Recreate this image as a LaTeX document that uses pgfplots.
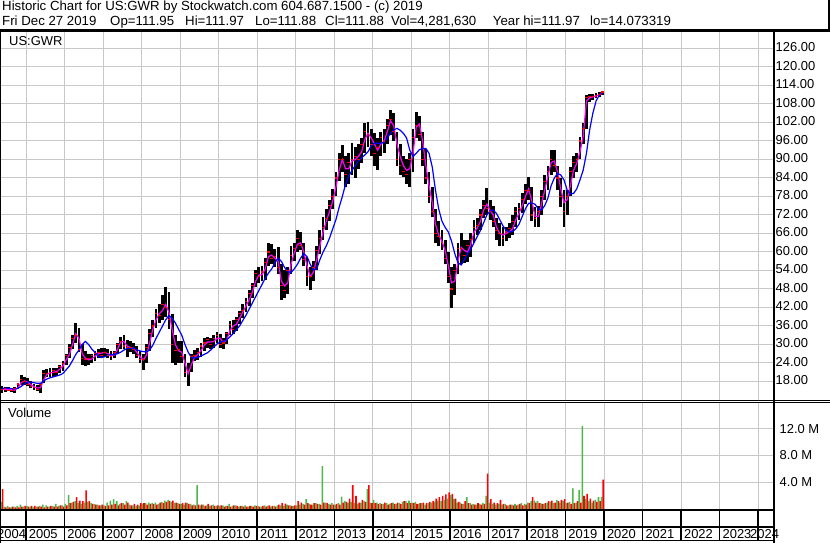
\documentclass[border=0pt]{standalone}
\usepackage{pgfplots}
\pgfplotsset{compat=1.18}
\usepackage{pgfplotstable}
\usepackage{fontspec}
\setmainfont{Liberation Sans}
\definecolor{gridgray}{RGB}{200,200,200}
\definecolor{volgreen}{RGB}{76,184,72}
\definecolor{volred}{RGB}{255,0,0}
\definecolor{magline}{RGB}{255,0,255}
\definecolor{blueline}{RGB}{0,0,255}
\newcommand\ff{\fontsize{13}{15}\selectfont}
\newcommand\hf{\fontsize{13.3}{15}\selectfont}

\pgfplotstableread{
t hi lo c m b vg vr
2004.375 16.5 14.3 15.5 15.4 15.8 1.1 3.0
2004.458 16.2 14.5 15.6 15.4 15.8 0.4 0.3
2004.542 16.3 14.8 15.2 15.5 15.8 0.5 0.3
2004.625 16.0 14.5 15.0 15.3 15.7 0.3 0.4
2004.708 16.2 14.3 15.8 15.2 15.6 0.4 0.3
2004.792 17.5 15.5 17.2 16.0 15.8 0.5 0.3
2004.875 20.2 17.0 18.6 17.6 16.4 0.7 0.4
2004.958 19.5 17.0 18.0 18.2 17.2 0.4 0.5
2005.042 19.0 16.5 17.0 17.8 17.8 0.5 0.4
2005.125 18.0 15.8 16.5 17.0 17.8 0.4 0.5
2005.208 17.2 15.3 16.0 16.3 17.6 0.3 0.5
2005.292 16.8 15.0 15.5 15.9 17.4 0.4 0.4
2005.375 17.5 14.3 17.0 16.0 17.4 0.5 0.4
2005.458 21.8 17.5 20.5 18.5 18.2 0.7 0.3
2005.542 22.0 19.5 20.5 20.3 18.8 0.6 0.4
2005.625 22.3 19.6 21.0 20.8 19.2 0.4 0.5
2005.708 22.3 19.6 21.5 21.0 19.5 0.5 0.4
2005.792 22.5 19.8 21.0 21.2 19.8 0.8 0.4
2005.875 23.5 20.7 23.0 22.0 20.1 0.5 0.6
2005.958 24.5 21.5 23.8 23.0 20.6 0.6 0.4
2006.042 27.0 23.5 26.5 25.0 21.8 0.8 0.6
2006.125 30.0 25.6 29.0 26.7 23.0 2.1 0.9
2006.208 33.0 28.5 32.0 30.0 24.8 1.0 1.1
2006.292 37.0 30.5 33.0 33.5 26.8 1.2 1.8
2006.375 35.5 27.5 28.5 32.0 28.2 0.9 1.3
2006.458 30.0 23.5 25.5 27.0 30.0 0.8 1.2
2006.542 28.0 23.0 25.0 25.5 31.0 1.0 2.8
2006.625 27.0 23.5 25.5 25.0 30.0 1.1 1.2
2006.708 27.0 24.0 26.5 25.3 28.5 0.9 0.8
2006.792 28.0 24.5 27.0 26.2 27.5 0.8 0.7
2006.875 28.5 25.5 27.5 27.0 26.2 0.7 0.6
2006.958 29.0 25.5 26.5 27.2 25.8 0.6 0.7
2007.042 29.0 26.0 27.5 27.5 26.0 0.6 0.5
2007.125 28.5 25.5 26.5 27.0 26.5 1.0 0.6
2007.208 28.0 25.0 26.0 26.5 26.7 1.3 0.7
2007.292 28.0 25.5 27.5 26.6 26.8 1.5 0.8
2007.375 30.5 27.0 30.0 28.5 27.0 1.2 0.6
2007.458 32.5 28.5 31.0 30.8 27.5 0.8 0.9
2007.542 33.0 28.5 29.5 31.0 28.2 0.9 0.7
2007.625 31.5 26.0 29.0 29.5 28.7 1.2 1.0
2007.708 31.0 27.5 29.0 29.0 28.9 0.7 0.6
2007.792 30.5 27.0 28.5 28.8 28.8 0.6 0.8
2007.875 29.5 25.5 26.5 27.5 28.3 0.5 0.7
2007.958 28.0 24.0 25.0 26.0 27.9 0.6 0.9
2008.042 27.0 21.7 25.0 25.0 27.7 0.8 0.9
2008.125 30.0 24.0 29.0 26.5 27.6 0.9 0.7
2008.208 35.0 28.0 33.5 30.5 28.2 1.0 0.8
2008.292 38.0 32.5 36.0 35.0 29.8 0.9 0.8
2008.375 41.5 35.5 40.0 38.0 32.0 1.0 0.7
2008.458 43.0 37.0 39.5 40.0 34.0 0.8 1.0
2008.542 46.0 38.0 43.0 41.0 36.0 1.1 0.9
2008.625 48.7 39.0 42.0 43.0 38.0 1.3 1.1
2008.708 47.0 35.0 38.0 40.5 39.4 1.4 1.2
2008.792 40.0 24.0 30.0 35.0 38.5 1.1 1.3
2008.875 33.0 23.5 28.0 30.0 37.0 0.9 1.0
2008.958 31.0 24.0 28.5 28.0 35.0 0.9 0.8
2009.042 31.0 24.0 26.0 27.5 33.0 0.8 0.9
2009.125 27.0 19.5 21.0 24.0 30.0 0.7 1.0
2009.208 24.0 16.6 21.5 20.5 27.5 0.9 0.8
2009.292 27.0 21.0 26.0 23.5 25.8 0.8 0.6
2009.375 28.3 24.5 26.5 25.8 25.6 0.7 0.6
2009.458 29.0 25.0 27.5 26.8 25.8 3.6 0.7
2009.542 30.5 26.0 29.5 28.0 26.3 0.6 0.7
2009.625 32.0 28.0 30.5 29.8 26.8 0.7 0.5
2009.708 32.5 29.0 31.5 30.8 27.3 0.6 0.8
2009.792 32.0 28.5 30.0 30.8 28.2 0.5 0.6
2009.875 33.0 29.0 32.0 31.0 29.2 0.7 0.5
2009.958 34.0 30.5 33.0 32.0 30.2 0.5 0.6
2010.042 33.5 29.0 30.0 32.0 30.8 0.5 0.6
2010.125 32.0 28.5 30.5 30.5 31.0 0.6 0.4
2010.208 34.0 30.0 33.5 31.5 31.5 0.5 0.5
2010.292 37.5 33.0 36.5 34.5 32.5 0.8 0.4
2010.375 38.0 33.5 35.0 36.0 33.5 0.5 0.6
2010.458 39.0 34.5 38.0 36.5 34.8 0.6 0.5
2010.542 41.0 36.5 40.0 38.5 36.0 0.4 0.5
2010.625 43.0 38.5 41.0 40.5 37.8 0.5 0.4
2010.708 45.0 40.5 44.0 42.5 39.5 0.6 0.4
2010.792 47.7 42.5 46.5 44.5 41.5 0.4 0.5
2010.875 50.0 45.0 49.0 47.0 43.5 0.5 0.4
2010.958 54.2 48.5 53.0 50.5 45.5 0.6 0.5
2011.042 55.0 50.0 52.0 52.5 47.5 0.5 0.4
2011.125 55.3 50.5 53.5 52.6 49.5 0.4 0.5
2011.208 58.0 51.0 56.5 54.5 51.5 0.6 0.4
2011.292 62.8 55.5 60.0 58.5 53.2 0.5 0.6
2011.375 62.5 56.0 58.0 59.0 54.5 0.4 0.5
2011.458 61.0 55.0 58.5 58.0 56.5 0.5 0.4
2011.542 61.5 53.0 55.0 57.0 58.0 0.6 0.7
2011.625 56.0 44.5 49.0 50.5 57.0 0.6 0.9
2011.708 54.0 45.0 47.5 49.0 55.0 0.5 0.85
2011.792 55.0 46.5 54.0 50.0 53.7 0.7 0.6
2011.875 61.8 53.0 59.0 56.0 53.3 0.6 0.5
2011.958 63.0 57.0 61.0 59.5 54.5 0.5 0.6
2012.042 67.2 60.0 64.5 62.5 56.0 0.6 1.2
2012.125 66.5 60.5 62.0 63.0 58.0 0.7 1.0
2012.208 63.0 55.3 57.5 60.0 59.5 0.8 0.7
2012.292 58.5 49.0 52.0 55.5 58.5 1.5 0.9
2012.375 55.0 47.7 52.0 52.0 56.0 0.8 0.7
2012.458 57.0 50.5 55.0 53.5 54.2 0.7 0.9
2012.542 62.0 54.0 60.5 57.5 54.5 0.9 0.8
2012.625 67.0 59.5 64.5 62.0 57.5 0.8 0.7
2012.708 71.5 64.0 68.0 66.5 60.0 6.4 1.0
2012.792 74.0 67.0 71.0 70.0 62.0 1.0 0.9
2012.875 77.0 70.0 75.0 73.0 64.5 0.8 0.7
2012.958 80.5 74.0 78.0 76.5 67.5 0.9 0.7
2013.042 86.0 78.0 84.0 81.0 70.5 0.7 0.8
2013.125 92.0 83.0 90.0 86.5 74.5 0.9 0.7
2013.208 94.7 86.0 90.0 90.0 78.0 1.9 1.0
2013.292 91.0 81.2 85.0 87.0 82.0 1.2 1.1
2013.375 92.0 82.0 89.0 87.0 84.5 1.0 1.6
2013.458 95.4 85.0 90.0 89.5 86.5 1.1 3.6
2013.542 94.0 84.0 91.0 90.0 88.0 0.9 2.0
2013.625 95.0 87.0 90.0 91.0 89.5 0.8 1.0
2013.708 97.0 89.0 95.0 92.5 90.5 1.0 1.4
2013.792 101.7 92.0 99.0 96.5 91.5 1.2 1.1
2013.875 102.3 94.0 98.0 98.5 92.5 3.0 3.6
2013.958 100.0 91.0 95.0 97.0 94.5 1.0 0.9
2014.042 98.6 88.0 92.0 95.0 95.3 1.4 0.9
2014.125 97.0 86.6 94.0 93.0 95.3 1.0 0.8
2014.208 99.0 91.0 97.0 95.0 95.3 0.9 0.8
2014.292 100.0 92.0 96.0 96.0 95.5 0.8 1.0
2014.375 103.0 95.0 101.0 99.0 97.0 0.9 0.7
2014.458 106.0 98.0 103.0 102.5 98.5 0.8 0.9
2014.542 105.0 96.0 99.0 101.0 99.6 1.0 0.8
2014.625 99.0 88.0 90.0 95.0 100.1 0.8 1.0
2014.708 95.0 85.0 88.0 91.0 99.5 0.9 0.8
2014.792 91.0 84.4 86.0 88.0 98.5 1.1 1.2
2014.875 90.0 82.0 85.0 86.5 97.0 1.2 0.9
2014.958 92.0 81.2 90.0 87.0 93.0 1.3 0.9
2015.042 100.0 86.0 97.0 92.0 91.0 1.0 0.9
2015.125 105.5 97.0 101.0 100.5 92.0 1.1 0.8
2015.208 104.0 96.0 98.0 101.5 93.2 0.8 0.9
2015.292 99.0 88.0 90.0 96.0 93.6 0.9 1.0
2015.375 93.5 82.0 84.0 88.0 93.6 0.7 0.9
2015.458 86.0 76.0 78.0 81.5 92.0 0.9 1.1
2015.542 81.0 71.5 73.0 76.0 87.5 1.0 1.2
2015.625 74.0 63.0 66.0 69.0 80.0 1.1 1.6
2015.708 70.0 61.8 65.0 65.5 74.0 1.3 1.8
2015.792 67.0 60.5 63.0 63.5 70.0 1.2 2.0
2015.875 64.0 56.0 58.0 60.5 68.0 1.4 2.2
2015.958 60.0 50.0 52.0 55.5 66.5 1.6 2.5
2016.042 55.0 41.8 48.0 50.0 63.5 2.1 2.3
2016.125 56.0 46.0 54.0 50.5 59.5 1.5 1.6
2016.208 63.0 53.0 61.0 57.0 56.5 1.0 1.1
2016.292 66.0 56.0 61.0 61.5 55.8 1.0 0.8
2016.375 64.0 56.5 59.0 60.5 57.5 0.8 1.2
2016.458 64.0 56.9 62.0 60.0 59.5 1.8 0.9
2016.542 66.0 58.5 64.0 62.5 61.0 0.9 0.7
2016.625 70.4 63.0 68.0 66.5 63.0 0.8 0.7
2016.708 71.0 65.5 68.5 67.7 65.0 0.7 0.9
2016.792 74.0 67.0 72.0 70.0 67.0 0.8 0.7
2016.875 77.0 71.0 75.0 73.6 69.5 0.9 0.8
2016.958 80.7 72.0 74.0 75.5 72.0 2.0 5.3
2017.042 77.0 70.4 73.0 73.5 73.3 1.0 1.5
2017.125 75.0 68.0 70.0 72.0 73.6 0.8 1.0
2017.208 71.0 64.0 67.0 68.0 72.5 0.7 0.9
2017.292 69.4 61.8 66.0 66.0 70.5 0.8 1.4
2017.375 68.0 61.8 64.5 65.5 68.5 0.7 0.8
2017.458 68.0 63.5 66.5 66.0 67.0 0.8 0.6
2017.542 69.4 64.5 67.5 66.6 66.5 0.6 0.7
2017.625 72.0 65.5 70.0 67.5 66.6 0.7 0.6
2017.708 74.7 68.2 73.0 70.5 67.5 0.8 0.6
2017.792 76.0 70.5 74.0 72.5 69.0 0.7 0.8
2017.875 79.2 72.7 77.0 75.0 71.5 0.9 0.6
2017.958 82.0 75.5 80.0 78.0 74.0 0.8 0.7
2018.042 84.4 77.0 80.0 80.5 75.8 1.0 0.9
2018.125 81.0 70.0 72.0 76.5 75.9 1.2 1.8
2018.208 74.7 68.2 71.0 71.5 75.5 1.3 1.0
2018.292 75.0 68.2 73.0 71.5 74.0 1.2 0.9
2018.375 80.1 72.0 78.0 75.5 73.6 0.9 0.8
2018.458 85.0 77.0 83.0 80.0 75.0 0.8 0.9
2018.542 88.0 80.1 86.0 84.5 77.5 1.0 1.2
2018.625 93.1 85.0 90.0 89.0 81.5 1.1 1.3
2018.708 93.0 86.0 88.0 89.5 84.0 0.9 1.0
2018.792 88.0 80.0 84.0 86.0 85.5 1.4 1.2
2018.875 84.0 74.7 78.0 80.5 85.0 1.0 1.4
2018.958 80.0 68.2 73.0 76.0 83.4 1.2 1.5
2019.042 80.0 72.0 78.0 77.0 80.1 0.9 1.0
2019.125 87.7 78.0 86.0 81.5 78.8 1.1 0.8
2019.208 91.0 84.0 89.0 86.5 79.0 3.1 0.9
2019.292 92.0 86.0 90.0 88.8 80.5 1.0 1.2
2019.375 97.4 90.0 96.0 92.5 83.4 2.9 1.0
2019.458 101.7 95.0 100.0 97.5 86.6 12.4 2.0
2019.542 110.9 100.0 110.0 109.0 92.0 1.5 2.3
2019.625 111.2 108.7 110.3 110.0 99.6 1.2 1.6
2019.708 111.3 109.3 110.5 110.3 105.0 1.0 1.3
2019.792 111.5 109.9 110.8 110.6 109.0 1.4 1.1
2019.875 111.8 110.3 111.2 111.0 110.8 1.8 1.2
2019.958 112.0 110.9 111.9 111.5 111.5 1.8 4.4
}\data

\begin{document}
\begin{tikzpicture}
\useasboundingbox (0,0) rectangle (830bp,543bp);
\fill[white] (0,0) rectangle (830bp,543bp);
\pgfplotsset{chartbase/.style={
  scale only axis, width=773bp, xmin=2004.3513, xmax=2024.4084,
  anchor=south west,
  axis line style={draw=none}, major tick length=0pt,
  xtick={2005,...,2024}, xticklabels={},
  clip=true,
  /pgf/number format/assume math mode=true,
}}
% price panel
\begin{axis}[chartbase, at={(1bp,143bp)}, height=370bp, ymin=12, ymax=132,
  grid=major, major grid style={gridgray, line width=1bp},
  ytick={18,24,...,126}, yticklabel pos=right,
  yticklabel style={anchor=west, inner sep=0pt, xshift=1.5bp, yshift=1bp, font=\ff},
  yticklabel={\pgfmathprintnumber[fixed,fixed zerofill,precision=2]{\tick}},
]
\addplot[draw=none, mark=none, forget plot,
  error bars/.cd, y dir=plus, y explicit, error mark=none,
  error bar style={draw=black, line width=2.8bp}]
  table[x=t, y=lo, y error expr=\thisrow{hi}-\thisrow{lo}] {\data};
\addplot[only marks, mark=-, mark size=1.3bp, mark options={volred, line width=1.1bp}] table[x=t, y=c] {\data};
\addplot[magline, line width=1.2bp, mark=none] table[x=t, y=m] {\data};
\addplot[blueline, line width=1.2bp, mark=none] table[x=t, y=b] {\data};
\end{axis}
% volume panel
\begin{axis}[chartbase, at={(1bp,33.7bp)}, height=106.3bp, ymin=0, ymax=15.8,
  grid=major, major grid style={gridgray, line width=1bp},
  ytick={4,8,12}, yticklabel pos=right,
  yticklabel style={anchor=west, inner sep=0pt, xshift=5.5bp, font=\ff},
  yticklabel={\pgfmathprintnumber[fixed,fixed zerofill,precision=1]{\tick} M},
]
\addplot[ybar, bar width=0.04, bar shift=-0.02, fill=volgreen, draw=none] table[x=t, y=vg] {\data};
\addplot[ybar, bar width=0.04, bar shift=0.02, fill=volred, draw=none] table[x=t, y=vr] {\data};
\end{axis}
% year strip
\begin{axis}[chartbase, at={(1bp,2.3bp)}, height=30bp, ymin=0, ymax=1,
  ytick=\empty, xmajorgrids, major grid style={black, line width=1.5bp}, clip=false]
\pgfplotsinvokeforeach{2005,2006,2007,2008,2009,2010,2011,2012,2013,2014,2015,2016,2017,2018,2019,2020,2021,2022,2023}{
  \node[anchor=base west, inner sep=0pt, font=\ff] at (axis cs:#1+0.07,0.057) {#1};
}
\node[anchor=base west, inner sep=0pt, font=\ff] at (axis cs:2004.2475,0.057) {2004};
\node[anchor=base west, inner sep=0pt, font=\ff] at (axis cs:2023.786,0.057) {2024};
\end{axis}
% frame lines
\draw[black, line width=2.4bp] (0,512.5bp) -- (830bp,512.5bp);
\draw[black, line width=1.6bp] (829.2bp,512.5bp) -- (829.2bp,543bp);
\draw[black, line width=2bp] (0.5bp,0) -- (0.5bp,512.5bp);
\draw[black, line width=2.3bp] (773.8bp,0) -- (773.8bp,512.5bp);
\draw[black, line width=1bp] (0,142.7bp) -- (830bp,142.7bp);
\draw[black, line width=1bp] (0,140.5bp) -- (830bp,140.5bp);
\draw[black, line width=1.8bp] (0,33bp) -- (774bp,33bp);
\draw[black, line width=1.5bp] (0,16.2bp) -- (774bp,16.2bp);
\draw[black, line width=1.5bp] (0,2.3bp) -- (774bp,2.3bp);
% texts
\node[anchor=base west, inner sep=0pt, font=\hf] at (2bp,532.7bp) {Historic Chart for US:GWR by Stockwatch.com 604.687.1500 - (c) 2019};
\node[anchor=base west, inner sep=0pt, font=\hf] at (2bp,517bp) {Fri Dec 27 2019};
\node[anchor=base west, inner sep=0pt, font=\hf] at (110bp,517bp) {Op=111.95};
\node[anchor=base west, inner sep=0pt, font=\hf] at (185bp,517bp) {Hi=111.97};
\node[anchor=base west, inner sep=0pt, font=\hf] at (255bp,517bp) {Lo=111.88};
\node[anchor=base west, inner sep=0pt, font=\hf] at (325bp,517bp) {Cl=111.88};
\node[anchor=base west, inner sep=0pt, font=\hf] at (391bp,517bp) {Vol=4,281,630};
\node[anchor=base west, inner sep=0pt, font=\hf] at (492.7bp,517bp) {Year hi=111.97};
\node[anchor=base west, inner sep=0pt, font=\hf] at (590bp,517bp) {lo=14.073319};
\node[anchor=base west, inner sep=0pt, font=\ff] at (9bp,497bp) {US:GWR};
\node[anchor=base west, inner sep=0pt, font=\ff] at (8bp,125.3bp) {Volume};
\end{tikzpicture}
\end{document}
